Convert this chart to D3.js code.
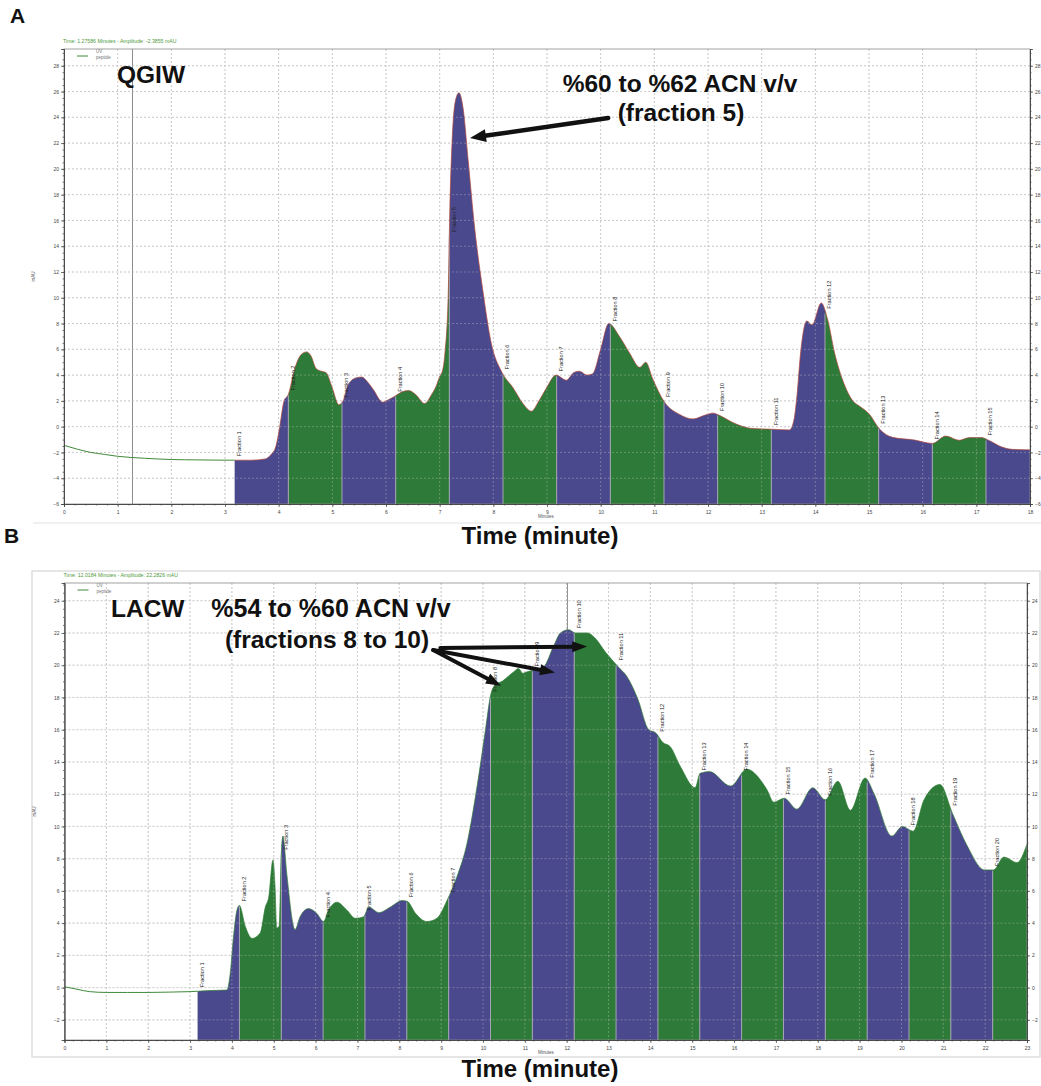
<!DOCTYPE html>
<html><head><meta charset="utf-8">
<script src="https://cdn.jsdelivr.net/npm/d3@7"></script>
<style>body{margin:0;background:#fff}svg{display:block}text{font-family:"Liberation Sans",Arial,Helvetica,sans-serif}</style>
</head><body><svg id="c" width="1041" height="1086"></svg>
<script>
// ---------- Panel A (QGIW) ----------
const timeA = [0,0.25,0.5,0.75,1,1.5,2,2.5,3,3.5,3.75,3.85,3.95,4.02,4.1,4.18,4.3,4.42,4.52,4.6,4.7,4.8,4.88,5.0,5.12,5.2,5.3,5.45,5.55,5.65,5.76,5.94,6.05,6.18,6.3,6.42,6.55,6.72,6.85,6.94,7.0,7.05,7.1,7.16,7.19,7.23,7.29,7.36,7.44,7.53,7.65,7.81,7.96,8.15,8.37,8.55,8.71,8.85,8.99,9.17,9.36,9.5,9.6,9.75,9.85,10.0,10.15,10.35,10.54,10.73,10.84,10.97,11.19,11.47,11.72,11.95,12.09,12.25,12.47,12.84,13.2,13.52,13.6,13.66,13.72,13.84,13.94,14.11,14.23,14.36,14.51,14.7,14.82,15.0,15.2,15.44,15.85,16.18,16.43,16.68,16.87,17.09,17.25,17.43,17.67,18.0];
const valueA = [-1.45,-1.75,-2.0,-2.15,-2.3,-2.45,-2.55,-2.58,-2.6,-2.6,-2.5,-2.2,-1.5,0.0,2.0,2.5,4.5,5.6,5.8,5.5,4.5,4.3,4.2,3.0,1.7,2.0,3.3,3.8,3.85,3.5,2.9,1.9,2.1,2.4,2.7,2.8,2.5,1.8,2.5,3.2,3.9,4.3,5.8,10.4,17.0,22.0,25.2,25.9,24.6,20.7,15.5,10.4,6.5,4.3,3.0,1.8,1.2,2.0,3.0,4.0,3.6,4.2,4.3,4.0,4.1,6.0,8.0,7.0,5.7,4.6,5.0,3.7,1.9,0.95,0.6,0.9,1.05,0.8,0.3,-0.15,-0.2,-0.25,0.5,2.5,5.5,8.2,7.9,9.6,8.3,5.7,3.6,2.0,1.6,1.0,-0.2,-0.83,-1.04,-1.3,-0.73,-1.06,-0.85,-0.85,-1.1,-1.5,-1.76,-1.8];
const fractionStartA = [3.18,4.18,5.18,6.18,7.18,8.18,9.18,10.18,11.18,12.18,13.18,14.18,15.18,16.18,17.18];
const runEndA = 18;
const xTicksA = [0,1,2,3,4,5,6,7,8,9,10,11,12,13,14,15,16,17,18];
const yTicksA = [-6,-4,-2,0,2,4,6,8,10,12,14,16,18,20,22,24,26,28];

// ---------- Panel B (LACW) ----------
const timeB = [0,0.3,0.6,1,1.5,2,2.5,3,3.5,3.88,3.96,4.04,4.12,4.18,4.32,4.48,4.68,4.8,4.88,4.98,5.03,5.07,5.13,5.18,5.22,5.31,5.51,5.63,5.83,6.03,6.19,6.31,6.51,6.75,6.95,7.15,7.27,7.51,7.79,8.07,8.19,8.39,8.66,8.9,9.14,9.38,9.62,9.86,10.06,10.18,10.3,10.46,10.6,10.74,10.85,10.95,11.06,11.22,11.45,11.69,11.85,12.05,12.21,12.5,12.67,12.93,13.23,13.44,13.7,13.96,14.13,14.3,14.47,14.72,15.07,15.19,15.41,15.92,16.3,16.78,16.95,17.2,17.5,17.88,18.18,18.48,18.78,19.13,19.34,19.77,20.02,20.28,20.54,20.92,21.22,21.56,21.99,22.2,22.45,22.76,23.0];
const valueB = [0.05,-0.1,-0.25,-0.3,-0.3,-0.3,-0.28,-0.25,-0.18,-0.15,0.88,3.2,4.8,5.1,3.8,3.05,3.4,5.0,5.6,7.9,6.3,3.7,3.8,8.3,9.4,7.1,3.6,4.4,4.9,4.6,4.1,4.8,5.3,4.8,4.3,4.4,5.0,4.65,5.0,5.4,5.35,4.6,4.1,4.3,5.4,6.9,8.96,12.5,16.0,18.1,18.8,19.0,19.3,19.6,19.8,19.5,19.6,19.7,19.9,21.2,22.0,22.2,22.0,22.0,21.7,20.8,19.9,19.3,17.9,16.0,15.8,15.2,14.96,13.7,12.4,13.3,13.4,12.5,13.55,12.3,11.5,11.75,11.07,12.4,11.65,12.8,11.0,13.0,12.06,9.4,10.0,9.7,11.65,12.6,10.8,8.85,7.3,7.3,8.1,7.75,8.9];
const fractionStartB = [3.18,4.18,5.18,6.18,7.18,8.18,9.18,10.18,11.18,12.18,13.18,14.18,15.18,16.18,17.18,18.18,19.18,20.18,21.18,22.18];
const runEndB = 23;
const xTicksB = [0,1,2,3,4,5,6,7,8,9,10,11,12,13,14,15,16,17,18,19,20,21,22,23];
const yTicksB = [-2,0,2,4,6,8,10,12,14,16,18,20,22,24];

const BLUE = "#4b498d", GREEN = "#2e7a38";

const svg = d3.select("#c");
svg.append("rect").attr("width",1041).attr("height",1086).attr("fill","#fff");
const defs = svg.append("defs");

function interp(ts, vs, t){
  const i = d3.bisectLeft(ts, t);
  if (i <= 0) return vs[0];
  if (i >= ts.length) return vs[vs.length-1];
  const t0 = ts[i-1], t1 = ts[i];
  return vs[i-1] + (vs[i]-vs[i-1])*(t-t0)/(t1-t0);
}

function arrow(g, x1, y1, x2, y2, w, hl, hw){
  const a = Math.atan2(y2-y1, x2-x1), c = Math.cos(a), s = Math.sin(a);
  const bx = x2 - hl*c, by = y2 - hl*s;
  g.append("line").attr("x1",x1).attr("y1",y1).attr("x2",bx+c*1).attr("y2",by+s*1)
    .attr("stroke","#111").attr("stroke-width",w).attr("stroke-linecap","round");
  g.append("path").attr("d",`M${x2},${y2}L${bx - s*hw/2},${by + c*hw/2}L${bx + s*hw/2},${by - c*hw/2}Z`).attr("fill","#111");
}

function drawPanel(p){
  const {id, times, values, starts, end, x, y, xTicks, yTicks} = p;
  const [x0, x1] = x.range();
  const [yb, yt] = y.range();
  const data = times.map((t,i)=>({t, v: values[i]}));
  const g = svg.append("g");

  const grid = (sel, col, op) => {
    sel.selectAll(null).data(xTicks.slice(1, -1)).join("line")
      .attr("x1", d=>x(d)).attr("x2", d=>x(d)).attr("y1", yt).attr("y2", yb)
      .attr("stroke", col).attr("stroke-opacity", op).attr("stroke-width", 0.8).attr("stroke-dasharray","2,2");
    sel.selectAll(null).data(yTicks.filter(d=>y(d) < yb - 1)).join("line")
      .attr("x1", x0).attr("x2", x1).attr("y1", d=>y(d)).attr("y2", d=>y(d))
      .attr("stroke", col).attr("stroke-opacity", op).attr("stroke-width", 0.8).attr("stroke-dasharray","2,2");
  };
  grid(g.append("g"), "#b8b8b8", 1);

  g.append("line").attr("x1", x(p.cursor)).attr("x2", x(p.cursor)).attr("y1", yt).attr("y2", yb)
    .attr("stroke", "#8c8c8c").attr("stroke-width", 1);

  const area = d3.area().x(d=>x(d.t)).y0(yb).y1(d=>y(d.v)).curve(d3.curveMonotoneX);
  const bounds = starts.concat([end]);
  starts.forEach((s, i) => {
    const cid = `clip${id}${i}`;
    defs.append("clipPath").attr("id", cid).append("rect")
      .attr("x", x(s)).attr("y", yt).attr("width", x(bounds[i+1]) - x(s)).attr("height", yb - yt);
    g.append("path").datum(data).attr("d", area).attr("fill", i % 2 === 0 ? BLUE : GREEN)
      .attr("clip-path", `url(#${cid})`);
  });
  g.selectAll(null).data(starts.slice(1)).join("line")
    .attr("x1", d=>x(d)).attr("x2", d=>x(d)).attr("y1", yb).attr("y2", d=>y(interp(times, values, d)) + 1)
    .attr("stroke", "#a4a4b4").attr("stroke-width", 1);

  grid(g.append("g"), "#d8d8d8", 0.4);

  const line = d3.line().x(d=>x(d.t)).y(d=>y(d.v)).curve(d3.curveMonotoneX);
  defs.append("clipPath").attr("id", `pre${id}`).append("rect")
    .attr("x", x0).attr("y", yt).attr("width", x(starts[0]) - x0).attr("height", yb - yt);
  defs.append("clipPath").attr("id", `post${id}`).append("rect")
    .attr("x", x(starts[0])).attr("y", yt).attr("width", x1 - x(starts[0])).attr("height", yb - yt);
  g.append("path").datum(data).attr("d", line).attr("fill","none").attr("stroke","#3f8a3a")
    .attr("stroke-width", 1).attr("clip-path", `url(#pre${id})`);
  g.append("path").datum(data).attr("d", line).attr("fill","none").attr("stroke", p.traceColor)
    .attr("stroke-width", 0.7).attr("clip-path", `url(#post${id})`);

  g.selectAll(null).data(starts).join("text")
    .attr("transform", (d)=>`translate(${x(d)+6.5},${y(interp(times, values, d)) - 4}) rotate(-90)`)
    .attr("font-size", 5.6).attr("fill", "#222").text((d,i)=>`Fraction ${i+1}`);

  g.append("rect").attr("x", x0).attr("y", yt).attr("width", x1-x0).attr("height", yb-yt)
    .attr("fill","none").attr("stroke","#8a8a8a").attr("stroke-width",0.8);

  const styleAxis = a => {
    a.selectAll("text").attr("font-size", 5).attr("fill","#444");
    a.selectAll("line").attr("stroke","#444").attr("stroke-width",0.7);
    a.select(".domain").attr("stroke","#444").attr("stroke-width",0.8);
  };
  const yMinor = d3.range(yTicks[0], y.domain()[1], 0.5);
  const xMinor = d3.range(0, end + 0.001, 0.2);
  g.append("g").attr("transform",`translate(${x0},0)`)
    .call(d3.axisLeft(y).tickValues(yTicks).tickSize(3).tickPadding(2).tickFormat(d3.format("d"))).call(styleAxis);
  g.append("g").attr("transform",`translate(${x0},0)`)
    .call(d3.axisLeft(y).tickValues(yMinor).tickSize(1.5).tickFormat("")).call(styleAxis);
  g.append("g").attr("transform",`translate(${x1},0)`)
    .call(d3.axisRight(y).tickValues(yTicks).tickSize(3).tickPadding(2).tickFormat(d3.format("d"))).call(styleAxis);
  g.append("g").attr("transform",`translate(${x1},0)`)
    .call(d3.axisRight(y).tickValues(yMinor).tickSize(1.5).tickFormat("")).call(styleAxis);
  g.append("g").attr("transform",`translate(0,${yb})`)
    .call(d3.axisBottom(x).tickValues(xTicks).tickSize(3).tickPadding(3).tickFormat(d3.format("d"))).call(styleAxis);
  g.append("g").attr("transform",`translate(0,${yb})`)
    .call(d3.axisBottom(x).tickValues(xMinor).tickSize(1.5).tickFormat("")).call(styleAxis);

  g.append("text").attr("x", x0 - 1).attr("y", yt - 6).attr("font-size", 5.2).attr("fill", "#4f9a3c").text(p.header);
  g.append("line").attr("x1", x0 + 13).attr("x2", x0 + 24).attr("y1", yt + 7).attr("y2", yt + 7).attr("stroke","#3f8a3a").attr("stroke-width",1);
  g.append("text").attr("x", x0 + 32).attr("y", yt + 4).attr("font-size", 4.5).attr("fill","#777").text("UV");
  g.append("text").attr("x", x0 + 32).attr("y", yt + 9.5).attr("font-size", 4.5).attr("fill","#777").text("peptide");
  g.append("text").attr("transform", `translate(${x0 - 29},${(yt+yb)/2}) rotate(-90)`).attr("font-size", 4.5).attr("fill","#555").attr("text-anchor","middle").text("mAU");
  g.append("text").attr("x", 538).attr("y", yb + 14).attr("font-size", 4.5).attr("fill","#555").text("Minutes");
  return g;
}

const xA = d3.scaleLinear([0, runEndA], [64, 1030]);
const yA = d3.scaleLinear([-6, 29.3], [504, 49]);
drawPanel({id:"A", times:timeA, values:valueA, starts:fractionStartA, end:runEndA, x:xA, y:yA,
  xTicks:xTicksA, yTicks:yTicksA, cursor:1.27586, traceColor:"#b0453a",
  header:"Time:  1.27586 Minutes - Amplitude:  -2.3855 mAU"});
svg.append("line").attr("x1",33).attr("x2",1041).attr("y1",523).attr("y2",523).attr("stroke","#e2e2e2").attr("stroke-width",1.2);

const xB = d3.scaleLinear([0, runEndB], [64.5, 1027]);
const yB = d3.scaleLinear([-3.25, 25.1], [1040, 583]);
svg.append("rect").attr("x",32).attr("y",571).attr("width",1008).attr("height",486).attr("fill","none").attr("stroke","#d6d6d6").attr("stroke-width",1.2);
drawPanel({id:"B", times:timeB, values:valueB, starts:fractionStartB, end:runEndB, x:xB, y:yB,
  xTicks:xTicksB, yTicks:yTicksB, cursor:12.0184, traceColor:"#2f7d36",
  header:"Time:  12.0184 Minutes - Amplitude:  22.2826 mAU"});

const ann = svg.append("g").attr("font-weight","bold").attr("fill","#111");
ann.append("text").attr("x",10).attr("y",23).attr("font-size",21).text("A");
ann.append("text").attr("x",4).attr("y",543).attr("font-size",21).text("B");
ann.append("text").attr("x",117).attr("y",83).attr("font-size",24.5).text("QGIW");
ann.append("text").attr("x",680).attr("y",92).attr("font-size",24.5).attr("text-anchor","middle").text("%60 to %62 ACN v/v");
ann.append("text").attr("x",681).attr("y",121).attr("font-size",24.5).attr("text-anchor","middle").text("(fraction 5)");
ann.append("text").attr("x",540).attr("y",544).attr("font-size",24).attr("text-anchor","middle").text("Time (minute)");
ann.append("text").attr("x",111).attr("y",617).attr("font-size",24.5).text("LACW");
ann.append("text").attr("x",331).attr("y",617).attr("font-size",25).attr("text-anchor","middle").text("%54 to %60 ACN v/v");
ann.append("text").attr("x",327).attr("y",648).attr("font-size",24.5).attr("text-anchor","middle").text("(fractions 8 to 10)");
ann.append("text").attr("x",540).attr("y",1077).attr("font-size",24).attr("text-anchor","middle").text("Time (minute)");

arrow(svg, xA(10.14), yA(23.95), xA(7.565), yA(22.4), 4.5, 16, 13);
arrow(svg, xB(8.81), yB(20.94), xB(10.43), yB(18.73), 4, 15, 11);
arrow(svg, xB(8.81), yB(20.94), xB(11.72), yB(19.55), 4, 15, 11);
arrow(svg, xB(8.98), yB(21.07), xB(12.49), yB(21.16), 4, 15, 11);
</script></body></html>
